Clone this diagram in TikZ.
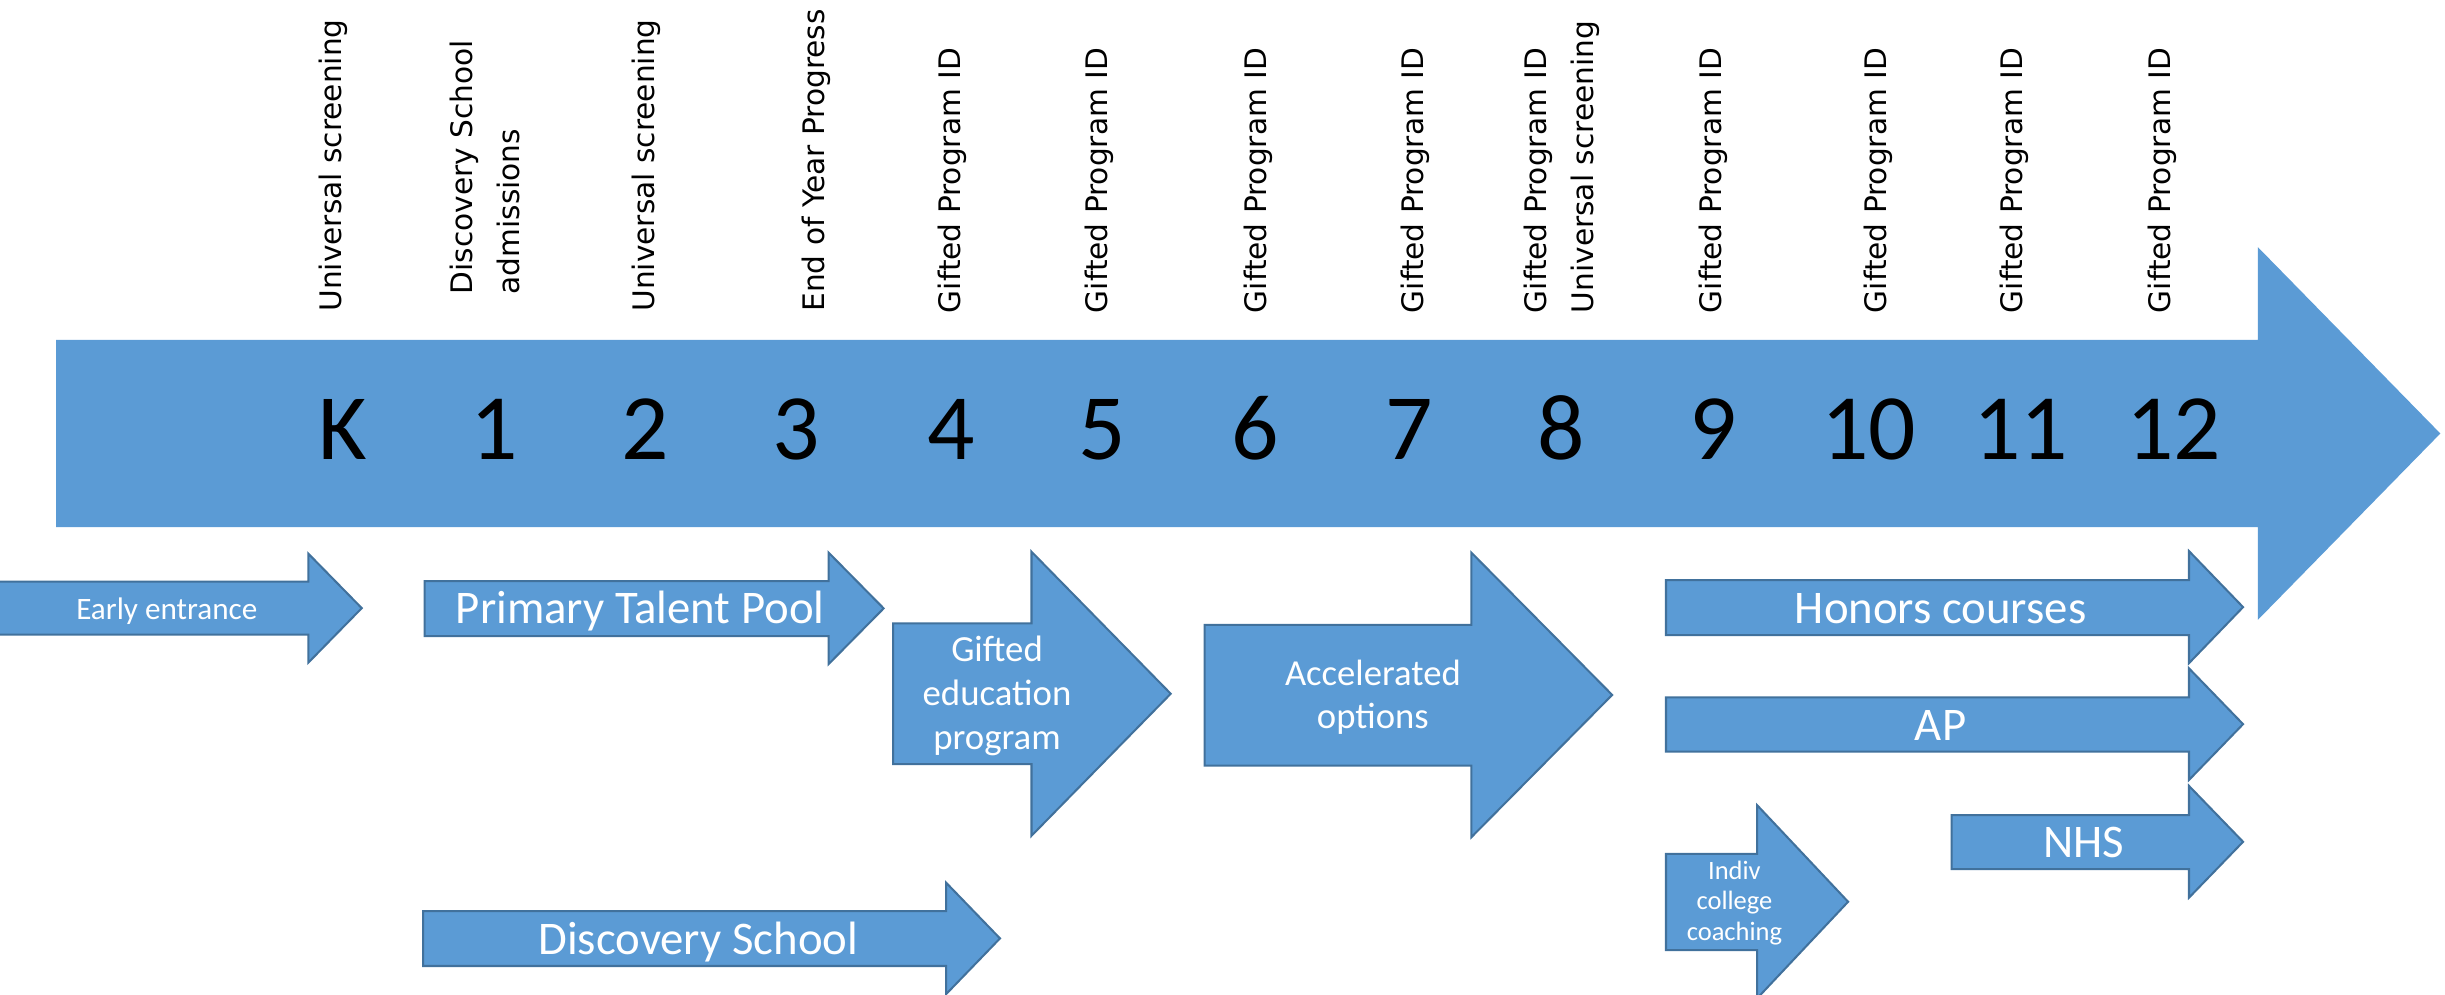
\documentclass[tikz,border=0pt]{standalone}
\usepackage{fontspec}
\setmainfont{Carlito}
\newfontfamily\labelfont{DejaVu Sans}
\definecolor{afill}{HTML}{5B9BD5}
\definecolor{aline}{HTML}{41719C}
\tikzset{
  bigarrow/.style={fill=afill},
  smallarrow/.style={fill=afill, draw=aline, line width=1.3pt, line join=miter},
  toplabel/.style={rotate=90, anchor=base west, inner sep=0pt, text=black,
    font=\labelfont\fontsize{19}{30}\selectfont},
  grade/.style={anchor=base, inner sep=0pt, text=black, font=\fontsize{60}{72}\selectfont},
  intext/.style={anchor=base, inner sep=0pt, text=white},
}
% left, body top, body bottom, head base, head top, head bottom, tip x, style
\newcommand{\rarrow}[8]{%
  \path[#8] (#1,#2) -- (#4,#2) -- (#4,#5) -- (#7,{(#5+#6)/2}) -- (#4,#6) -- (#4,#3) -- (#1,#3) -- cycle;}
\begin{document}
\begin{tikzpicture}[x=1pt,y=-1pt]
\useasboundingbox (0,0) rectangle (1568,637.47);
\clip (0,0) rectangle (1568,637.47);

% main timeline arrow
\rarrow{36}{218}{338}{1448}{158.5}{397.5}{1565}{bigarrow}

% grades
\foreach \g/\x [count=\i] in {K/219.6,1/316.8,2/413.7,3/510.9,4/610,5/707,6/805,7/903.9,8/1001,9/1099,10/1198.4,11/1295.7,12/1394}
  \node[grade] (grade\i) at (\x,294.4) {\g};

% top labels
\node[toplabel] (lk) at (219,200) {Universal screening};
\node[toplabel] (l1) at (333,189) {\begin{tabular}[b]{@{}l@{}}Discovery School\\admissions\end{tabular}};
\node[toplabel] (l2) at (420,200) {Universal screening};
\node[toplabel] (l3) at (529,200) {End of Year Progress};
\node[toplabel] (l4) at (616,201) {Gifted Program ID};
\node[toplabel] (l5) at (710,201) {Gifted Program ID};
\node[toplabel] (l6) at (812,201) {Gifted Program ID};
\node[toplabel] (l7) at (913,201) {Gifted Program ID};
\node[toplabel] (l8) at (1022,201) {\begin{tabular}[b]{@{}l@{}}Gifted Program ID\\Universal screening\end{tabular}};
\node[toplabel] (l9) at (1104,201) {Gifted Program ID};
\node[toplabel] (l10) at (1210,201) {Gifted Program ID};
\node[toplabel] (l11) at (1297,201) {Gifted Program ID};
\node[toplabel] (l12) at (1392,201) {Gifted Program ID};

% program arrows
\rarrow{-5}{373}{407}{197.7}{355}{425}{232}{smallarrow}
\rarrow{272.3}{372.7}{408}{531.4}{354.4}{425.9}{566.7}{smallarrow}
\rarrow{572.7}{399.7}{490}{661.5}{353.8}{536}{750.8}{smallarrow}
\rarrow{271.4}{584.3}{619.5}{606.7}{566}{637.6}{641.3}{smallarrow}
\rarrow{772.5}{400.8}{491}{943.6}{354.4}{536.9}{1033.9}{smallarrow}
\rarrow{1068.4}{372}{407.3}{1403.8}{353.4}{425.3}{1438.5}{smallarrow}
\rarrow{1068.4}{447.2}{482}{1403.8}{428.6}{500.2}{1438.5}{smallarrow}
\rarrow{1251.6}{522.7}{557.4}{1403.8}{504}{575.7}{1438.5}{smallarrow}
\rarrow{1068.4}{547.6}{609.3}{1126.8}{516.3}{640.3}{1185.2}{smallarrow}

% arrow texts
\node[intext, font=\fontsize{20}{24}\selectfont] (early) at (107,397.2) {Early entrance};
\node[intext, font=\fontsize{30}{36}\selectfont] (ptp) at (410.5,399.8) {Primary Talent Pool};
\node[intext, font=\fontsize{23.6}{28.3}\selectfont] (gep) at (639.4,480.5)
  {\begin{tabular}[b]{@{}c@{}}Gifted\\education\\program\end{tabular}};
\node[intext, font=\fontsize{30}{36}\selectfont] (disc) at (447.8,611.9) {Discovery School};
\node[intext, font=\fontsize{23.5}{27.7}\selectfont] (acc) at (880.4,467)
  {\begin{tabular}[b]{@{}c@{}}Accelerated\\options\end{tabular}};
\node[intext, font=\fontsize{30}{36}\selectfont] (hon) at (1244.5,399.8) {Honors courses};
\node[intext, font=\fontsize{30}{36}\selectfont] (ap) at (1244.5,474.6) {AP};
\node[intext, font=\fontsize{30}{36}\selectfont] (nhs) at (1336.3,549.6) {NHS};
\node[intext, font=\fontsize{17}{19.6}\selectfont] (indiv) at (1112.3,603)
  {\begin{tabular}[b]{@{}c@{}}Indiv\\college\\coaching\end{tabular}};
\end{tikzpicture}
\end{document}
